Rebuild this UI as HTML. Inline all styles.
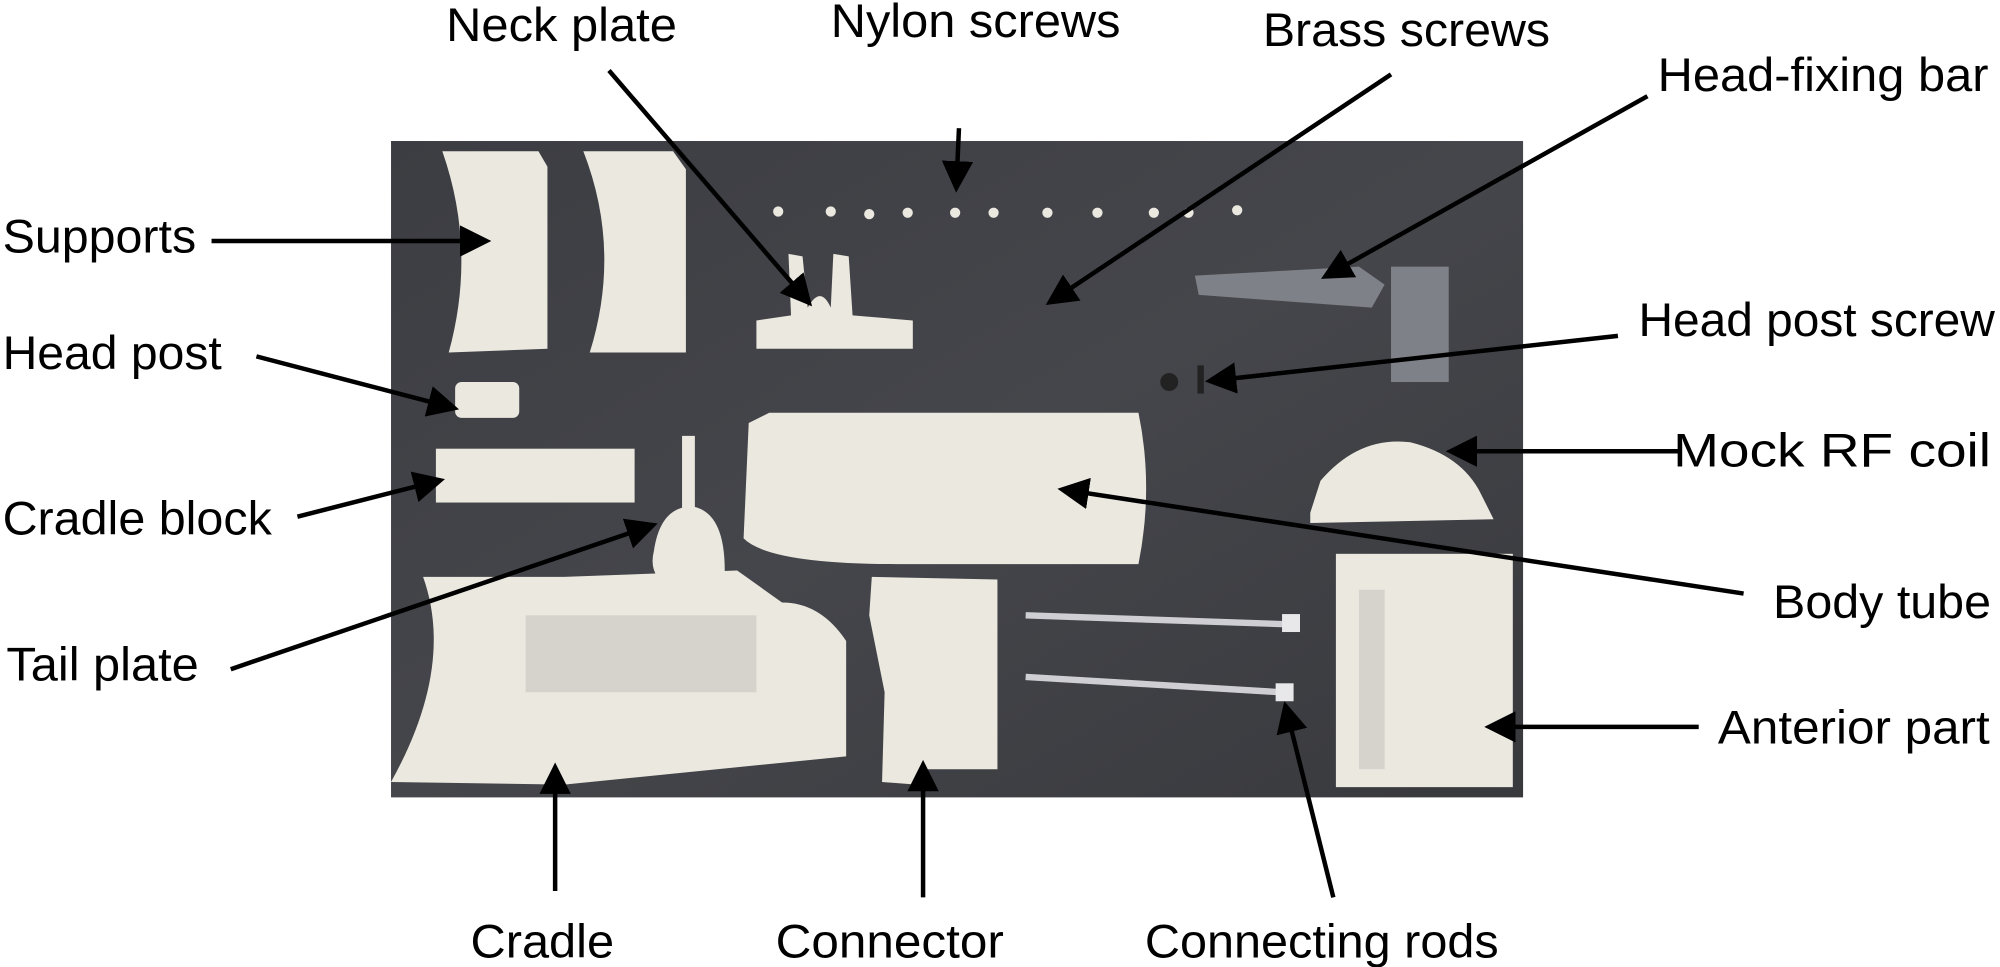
<!DOCTYPE html>
<html><head><meta charset="utf-8"><style>
html,body{margin:0;padding:0;background:#fff;}
svg{display:block;}
text{font-family:"Liberation Sans",sans-serif;font-size:37px;fill:#000;}
</style></head><body>
<svg width="2000" height="967" viewBox="0 0 1560 754.3" preserveAspectRatio="none" xmlns="http://www.w3.org/2000/svg">
<defs>
<marker id="a" markerWidth="7" markerHeight="7" refX="5.5" refY="3.5" orient="auto" markerUnits="strokeWidth">
<path d="M0,0 L7,3.5 L0,7 z" fill="#000"/></marker>
<linearGradient id="bg" x1="0" y1="0" x2="1" y2="1">
<stop offset="0" stop-color="#3c3d42"/><stop offset="0.5" stop-color="#45464b"/><stop offset="1" stop-color="#38393d"/></linearGradient>
</defs>
<rect x="305" y="110" width="883" height="512" fill="url(#bg)"/>
<g fill="#ebe8e0">
<path d="M345,118 L420,118 L427,130 L427,272 L350,275 Q372,195 345,118z"/>
<path d="M455,118 L525,118 L535,132 L535,275 L460,275 Q485,195 455,118z"/>
<path d="M590,250 L590,272 L712,272 L712,250 L665,246 L662,200 L650,198 L648,240 Q640,222 630,240 L626,200 L615,198 L617,246z"/>
<circle cx="607" cy="165" r="4"/><circle cx="648" cy="165" r="4"/><circle cx="678" cy="167" r="4"/><circle cx="708" cy="166" r="4"/><circle cx="745" cy="166" r="4"/><circle cx="775" cy="166" r="4"/><circle cx="817" cy="166" r="4"/><circle cx="856" cy="166" r="4"/><circle cx="900" cy="166" r="4"/><circle cx="927" cy="166" r="4"/><circle cx="965" cy="164" r="4"/>
<rect x="355" y="298" width="50" height="28" rx="5"/>
<rect x="340" y="350" width="155" height="42"/>
<rect x="532" y="340" width="10" height="60"/>
<path d="M510,430 Q515,395 540,395 Q568,400 565,455 L525,460 Q505,450 510,430z"/>
<path d="M584,330 L580,420 Q600,440 700,440 L888,440 Q900,380 888,322 L600,322z"/>
<path d="M1022,400 L1030,375 Q1060,340 1100,345 Q1140,355 1155,385 L1165,405 L1022,408z"/>
<path d="M305,610 L440,612 L660,590 L660,500 Q640,470 610,470 L575,445 L440,450 L330,450 Q355,520 305,610z"/>
<path d="M680,450 L778,452 L778,600 L720,600 L715,612 L688,610 L690,540 L678,480z"/>
<rect x="1042" y="432" width="138" height="182"/>
</g>
<g fill="#d6d3cc"><rect x="1060" y="460" width="20" height="140"/><rect x="410" y="480" width="180" height="60"/></g>
<g stroke="#cfcfd3" stroke-width="5"><line x1="800" y1="480" x2="1005" y2="487"/><line x1="800" y1="528" x2="1000" y2="540"/></g>
<rect x="1000" y="479" width="14" height="14" fill="#e8e8ea"/><rect x="995" y="533" width="14" height="14" fill="#e8e8ea"/>
<g fill="#7e8187"><rect x="1085" y="208" width="45" height="90"/><path d="M932,215 L1060,208 L1080,222 L1070,240 L935,230z"/></g>
<circle cx="912" cy="298" r="7" fill="#222"/><rect x="934" y="285" width="5" height="22" fill="#222"/>
<g stroke="#000" stroke-width="3.5" fill="none" marker-end="url(#a)">
<line x1="475" y1="55" x2="630" y2="235"/>
<line x1="748" y1="100" x2="746" y2="145"/>
<line x1="1085" y1="58" x2="820" y2="235"/>
<line x1="1285" y1="75" x2="1035" y2="215"/>
<line x1="165" y1="188" x2="378" y2="188"/>
<line x1="200" y1="278" x2="353" y2="318"/>
<line x1="1262" y1="262" x2="945" y2="297"/>
<line x1="1310" y1="352" x2="1133" y2="352"/>
<line x1="232" y1="403" x2="342" y2="375"/>
<line x1="1360" y1="463" x2="830" y2="382"/>
<line x1="180" y1="522" x2="508" y2="410"/>
<line x1="1325" y1="567" x2="1163" y2="567"/>
<line x1="433" y1="695" x2="433" y2="600"/>
<line x1="720" y1="700" x2="720" y2="598"/>
<line x1="1040" y1="700" x2="1003" y2="552"/>
</g>
<text x="348" y="32" textLength="180" lengthAdjust="spacingAndGlyphs">Neck plate</text>
<text x="648" y="29" textLength="226" lengthAdjust="spacingAndGlyphs">Nylon screws</text>
<text x="985" y="36" textLength="224" lengthAdjust="spacingAndGlyphs">Brass screws</text>
<text x="1293" y="71" textLength="258" lengthAdjust="spacingAndGlyphs">Head-fixing bar</text>
<text x="2" y="197" textLength="151" lengthAdjust="spacingAndGlyphs">Supports</text>
<text x="2" y="288" textLength="171" lengthAdjust="spacingAndGlyphs">Head post</text>
<text x="1278" y="262" textLength="278" lengthAdjust="spacingAndGlyphs">Head post screw</text>
<text x="1305" y="364" textLength="248" lengthAdjust="spacingAndGlyphs">Mock RF coil</text>
<text x="2" y="417" textLength="210" lengthAdjust="spacingAndGlyphs">Cradle block</text>
<text x="1383" y="482" textLength="170" lengthAdjust="spacingAndGlyphs">Body tube</text>
<text x="5" y="531" textLength="150" lengthAdjust="spacingAndGlyphs">Tail plate</text>
<text x="1340" y="580" textLength="212" lengthAdjust="spacingAndGlyphs">Anterior part</text>
<text x="367" y="747" textLength="112" lengthAdjust="spacingAndGlyphs">Cradle</text>
<text x="605" y="747" textLength="178" lengthAdjust="spacingAndGlyphs">Connector</text>
<text x="893" y="747" textLength="276" lengthAdjust="spacingAndGlyphs">Connecting rods</text>
</svg>
</body></html>
